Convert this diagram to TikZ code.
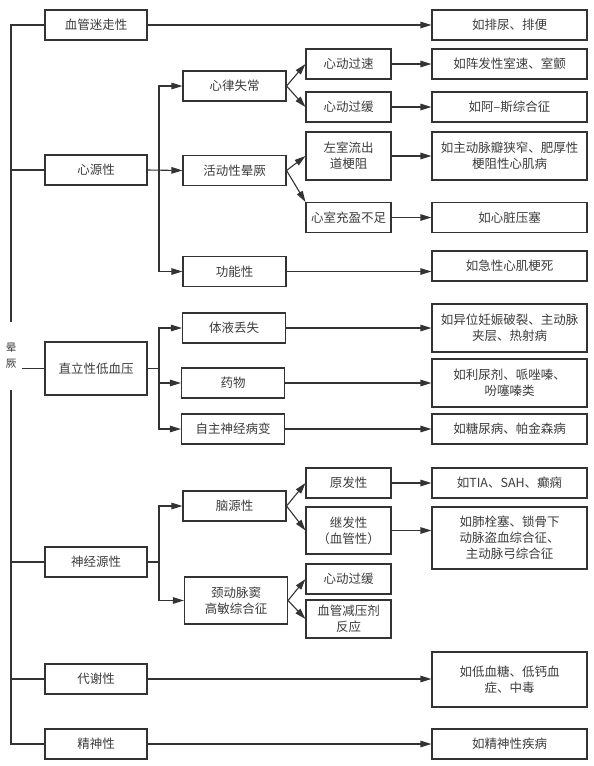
\documentclass[tikz,border=0pt]{standalone}
\usepackage{fontspec}
\newfontfamily\cjk{Noto Sans CJK SC}
\usetikzlibrary{arrows.meta}
\definecolor{linegray}{HTML}{333333}
\definecolor{textgray}{HTML}{3C3C3C}
\tikzset{
  box/.style={draw=linegray,line width=1.1pt,minimum height=30pt,inner sep=1pt,
    align=center,text=textgray,font=\cjk\fontsize{12.5}{16}\selectfont},
  lone/.style={box,minimum width=102pt},
  ltwo/.style={box,minimum width=103pt},
  lthree/.style={box,minimum width=85pt},
  lfour/.style={box,minimum width=155pt},
  link/.style={draw=linegray,line width=1.1pt},
  arr/.style={link,-{Triangle[length=11pt,width=6.5pt]}}
}

\begin{document}
\begin{tikzpicture}[x=1pt,y=-1pt]
  \useasboundingbox (0,0) rectangle (594,766);

  % root
  \node[text=textgray,font=\cjk\fontsize{10.5}{16}\selectfont,align=center,
    minimum width=22pt,minimum height=67pt,inner sep=0pt] (syncope) at (11,356) {晕\\厥};

  % first level
  \node[lone] (vagal) at (96,25) {血管迷走性};
  \node[lone] (cardiac) at (96,170) {心源性};
  \node[lone,minimum height=53pt] (ortho) at (96,368.5) {直立性低血压};
  \node[lone] (neuro) at (96,562) {神经源性};
  \node[lone] (metab) at (96,679) {代谢性};
  \node[lone] (psych) at (96,744) {精神性};

  % second level
  \node[ltwo] (arrh) at (234.5,86) {心律失常};
  \node[ltwo] (exert) at (234.5,170.5) {活动性晕厥};
  \node[ltwo] (func) at (234.5,271.5) {功能性};
  \node[ltwo] (fluid) at (234,328) {体液丢失};
  \node[ltwo] (drug) at (233,383) {药物};
  \node[ltwo] (auto) at (233,429) {自主神经病变};
  \node[ltwo] (brain) at (234.5,506) {脑源性};
  \node[ltwo,minimum height=47pt] (carot) at (236,600.5) {颈动脉窦\\高敏综合征};

  % third level
  \node[lthree] (tachy) at (348.5,64) {心动过速};
  \node[lthree] (brady) at (348.5,107) {心动过缓};
  \node[lthree,minimum height=48pt] (lvot) at (348.5,156) {左室流出\\道梗阻};
  \node[lthree] (fill) at (348.5,217.5) {心室充盈不足};
  \node[lthree] (prim) at (348.5,483) {原发性};
  \node[lthree,minimum height=47pt] (sec) at (348.5,530.5) {继发性\\（血管性）};
  \node[lthree] (bradyb) at (348.5,579) {心动过缓};
  \node[lthree,minimum height=38pt] (vdep) at (348.5,619) {血管减压剂\\反应};

  % examples
  \node[lfour] (eVagal) at (509.5,25) {如排尿、排便};
  \node[lfour] (eTachy) at (509.5,64) {如阵发性室速、室颤};
  \node[lfour] (eBrady) at (509.5,107) {如阿–斯综合征};
  \node[lfour,minimum height=48pt] (eLvot) at (509.5,156) {如主动脉瓣狭窄、肥厚性\\梗阻性心肌病};
  \node[lfour] (eFill) at (509.5,217.5) {如心脏压塞};
  \node[lfour] (eFunc) at (509.5,266) {如急性心肌梗死};
  \node[lfour,minimum height=48pt] (eFluid) at (509.5,328) {如异位妊娠破裂、主动脉\\夹层、热射病};
  \node[lfour,minimum height=48pt] (eDrug) at (509.5,383) {如利尿剂、哌唑嗪、\\吩噻嗪类};
  \node[lfour] (eAuto) at (509.5,429) {如糖尿病、帕金森病};
  \node[lfour] (ePrim) at (509.5,483) {如TIA、SAH、癫痫};
  \node[lfour,minimum height=62pt] (eSec) at (509.5,538) {如肺栓塞、锁骨下\\动脉盗血综合征、\\主动脉弓综合征};
  \node[lfour,minimum height=55pt] (eMetab) at (509.5,679.5) {如低血糖、低钙血\\症、中毒};
  \node[lfour] (ePsych) at (509.5,744) {如精神性疾病};

  % trunk
  \draw[link] (syncope.north) |- (vagal.west);
  \draw[link] (syncope.south) |- (psych.west);
  \draw[link] (syncope.north |- cardiac.west) -- (cardiac.west);
  \draw[link] (syncope.east |- ortho.west) -- (ortho.west);
  \draw[link] (syncope.south |- neuro.west) -- (neuro.west);
  \draw[link] (syncope.south |- metab.west) -- (metab.west);

  % forks
  \coordinate (cfork) at (159,170);
  \coordinate (ofork) at (159,368.5);
  \coordinate (nfork) at (159,562);
  \draw[arr] (cardiac.east) -- (exert.west);
  \draw[arr] (cfork) |- (arrh.west);
  \draw[arr] (cfork) |- (func.west);
  \draw[link] (ortho.east) -- (ofork);
  \draw[arr] (ofork) |- (fluid.west);
  \draw[arr] (ofork) |- (drug.west);
  \draw[arr] (ofork) |- (auto.west);
  \draw[link] (neuro.east) -- (nfork);
  \draw[arr] (nfork) |- (brain.west);
  \draw[arr] (nfork) |- (carot.west);

  % splits
  \draw[arr] (arrh.east) -- (tachy.west);
  \draw[arr] (arrh.east) -- (brady.west);
  \draw[arr] (exert.east) -- (lvot.west);
  \draw[arr] (exert.east) -- (fill.north west);
  \draw[arr] (brain.east) -- (prim.west);
  \draw[arr] (brain.east) -- (sec.west);
  \draw[arr] (carot.east) -- (bradyb.west);
  \draw[arr] (carot.east) -- (vdep.west);

  % to examples
  \draw[arr] (vagal.east) -- (vagal.east -| eVagal.west);
  \draw[arr] (tachy.east) -- (tachy.east -| eTachy.west);
  \draw[arr] (brady.east) -- (brady.east -| eBrady.west);
  \draw[arr] (lvot.east) -- (lvot.east -| eLvot.west);
  \draw[arr] (fill.east) -- (fill.east -| eFill.west);
  \draw[arr] (func.east) -- (func.east -| eFunc.west);
  \draw[arr] (fluid.east) -- (fluid.east -| eFluid.west);
  \draw[arr] (drug.east) -- (drug.east -| eDrug.west);
  \draw[arr] (auto.east) -- (auto.east -| eAuto.west);
  \draw[arr] (prim.east) -- (prim.east -| ePrim.west);
  \draw[arr] (sec.east) -- (sec.east -| eSec.west);
  \draw[arr] (metab.east) -- (metab.east -| eMetab.west);
  \draw[arr] (psych.east) -- (psych.east -| ePsych.west);
\end{tikzpicture}
\end{document}
